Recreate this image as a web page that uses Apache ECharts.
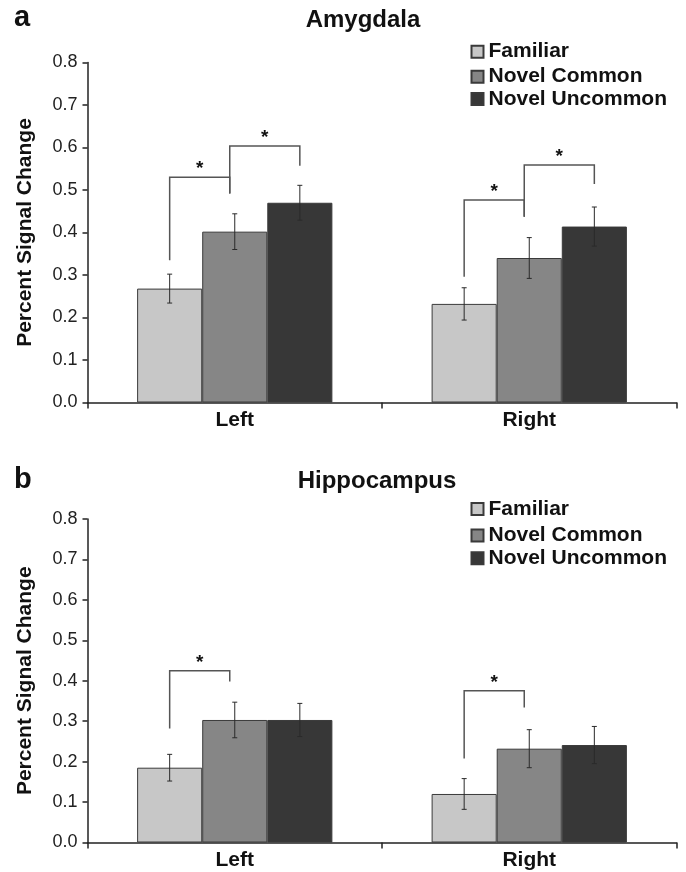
<!DOCTYPE html>
<html>
<head>
<meta charset="utf-8">
<script src="https://cdn.jsdelivr.net/npm/echarts@6/dist/echarts.min.js"></script>
<style>
html,body{margin:0;padding:0;background:#fff;}
#chart{width:686px;height:872px;}
</style>
</head>
<body>
<div id="chart"></div>
<script>
// ---------- data ----------
const categories = ['Left', 'Right'];
const seriesNames = ['Familiar', 'Novel Common', 'Novel Uncommon'];
const yTicks = [0, 0.8, 0.1]; // min, max, interval

const amygdalaFamiliar = [0.268, 0.232];
const amygdalaNovelCommon = [0.402, 0.340];
const amygdalaNovelUncommon = [0.470, 0.414];
const amygdalaErrFamiliar = [0.034, 0.038];
const amygdalaErrNovelCommon = [0.042, 0.048];
const amygdalaErrNovelUncommon = [0.041, 0.046];
// [category, fromBar, toBar, leftFoot, top, rightFoot]
const amygdalaBrackets = [
  [0, -1, 0, 0.335, 0.530, 0.492],
  [0, 0, 1, 0.492, 0.6035, 0.557],
  [1, -1, 0, 0.296, 0.4765, 0.437],
  [1, 0, 1, 0.437, 0.559, 0.514]
];

const hippoFamiliar = [0.185, 0.120];
const hippoNovelCommon = [0.303, 0.232];
const hippoNovelUncommon = [0.303, 0.241];
const hippoErrFamiliar = [0.033, 0.038];
const hippoErrNovelCommon = [0.044, 0.047];
const hippoErrNovelUncommon = [0.041, 0.046];
const hippoBrackets = [
  [0, -1, 0, 0.282, 0.425, 0.398],
  [1, -1, 0, 0.208, 0.375, 0.334]
];

// ---------- style ----------
const colors = ['#c7c7c7', '#868686', '#373737'];
const BAR_FRAC = 0.221;
const MID_SHIFT = -5;
const FONT = 'Liberation Sans, Arial, Helvetica, sans-serif';
const TXT = '#111';

function slotX(center, band, slot) {
  return center + slot * band * BAR_FRAC + (slot === 0 ? MID_SHIFT : 0);
}

function errRender(params, api) {
  const cat = api.value(0), val = api.value(1), err = api.value(2), slot = api.value(3);
  const band = api.size([1, 0])[0];
  const top = api.coord([cat, val + err]);
  const bot = api.coord([cat, val - err]);
  const x = top[0] + slot * band * BAR_FRAC;
  const cap = 2.5;
  const st = { stroke: '#2a2a2a', lineWidth: 1 };
  return {
    type: 'group',
    children: [
      { type: 'line', shape: { x1: x, y1: top[1], x2: x, y2: bot[1] }, style: st },
      { type: 'line', shape: { x1: x - cap, y1: top[1], x2: x + cap, y2: top[1] }, style: st },
      { type: 'line', shape: { x1: x - cap, y1: bot[1], x2: x + cap, y2: bot[1] }, style: st }
    ]
  };
}

function bracketRender(params, api) {
  const cat = api.value(0), s0 = api.value(1), s1 = api.value(2);
  const lf = api.value(3), tp = api.value(4), rf = api.value(5);
  const band = api.size([1, 0])[0];
  const c = api.coord([cat, tp]);
  const xL = slotX(c[0], band, s0);
  const xR = slotX(c[0], band, s1);
  const yT = c[1];
  const yL = api.coord([cat, lf])[1];
  const yR = api.coord([cat, rf])[1];
  return {
    type: 'group',
    children: [
      { type: 'polyline', shape: { points: [[xL, yL], [xL, yT], [xR, yT], [xR, yR]] },
        style: { stroke: '#555', lineWidth: 1.5, fill: null } },
      { type: 'text', style: { text: '*', x: (xL + xR) / 2, y: yT - 8, align: 'center', verticalAlign: 'middle',
        fontSize: 19, fontWeight: 'bold', fontFamily: FONT, fill: TXT } }
    ]
  };
}

function buildErrData(vals, errs) {
  const out = [];
  for (let s = 0; s < vals.length; s++) {
    for (let c = 0; c < categories.length; c++) {
      out.push([c, vals[s][c], errs[s][c], s - 1]);
    }
  }
  return out;
}

const panels = [
  { vals: [amygdalaFamiliar, amygdalaNovelCommon, amygdalaNovelUncommon],
    errs: [amygdalaErrFamiliar, amygdalaErrNovelCommon, amygdalaErrNovelUncommon],
    brackets: amygdalaBrackets },
  { vals: [hippoFamiliar, hippoNovelCommon, hippoNovelUncommon],
    errs: [hippoErrFamiliar, hippoErrNovelCommon, hippoErrNovelUncommon],
    brackets: hippoBrackets }
];

const grids = [
  { left: 87.5, top: 62.5, width: 589, height: 340 },
  { left: 87.5, top: 519, width: 589, height: 323.5 }
];

const xAxes = grids.map((g, i) => ({
  type: 'category', gridIndex: i, data: categories,
  axisLine: { lineStyle: { color: '#222', width: 1.5 } },
  axisTick: { show: true, length: 6, lineStyle: { color: '#222', width: 1.5 } },
  axisLabel: { color: TXT, fontSize: 21, fontWeight: 'bold', fontFamily: FONT, margin: 7 },
  splitLine: { show: false }
}));

const yAxes = grids.map((g, i) => ({
  type: 'value', gridIndex: i, min: yTicks[0], max: yTicks[1], interval: yTicks[2],
  name: 'Percent Signal Change', nameLocation: 'middle', nameGap: 52,
  nameTextStyle: { color: TXT, fontSize: 21, fontWeight: 'bold', fontFamily: FONT },
  axisLine: { show: true, lineStyle: { color: '#222', width: 1.5 } },
  axisTick: { show: true, length: 5, lineStyle: { color: '#222', width: 1.5 } },
  axisLabel: { color: '#222', fontSize: 18, fontFamily: FONT, margin: 10,
    formatter: v => v.toFixed(1) },
  splitLine: { show: false }
}));

const series = [];
panels.forEach((p, gi) => {
  seriesNames.forEach((name, si) => {
    series.push({
      type: 'bar', name: name, xAxisIndex: gi, yAxisIndex: gi,
      data: p.vals[si], barWidth: (BAR_FRAC * 100) + '%', barGap: '0%',
      itemStyle: { color: colors[si], borderColor: '#3a3a3a', borderWidth: 1 },
      emphasis: { disabled: true }
    });
  });
  series.push({
    type: 'custom', xAxisIndex: gi, yAxisIndex: gi, renderItem: errRender,
    data: buildErrData(p.vals, p.errs), encode: { x: 0, y: 1 }, z: 5, silent: true
  });
  series.push({
    type: 'custom', xAxisIndex: gi, yAxisIndex: gi, renderItem: bracketRender,
    data: p.brackets, encode: { x: 0, y: 4 }, z: 5, silent: true
  });
});

const legendCenters = [[51.7, 76.7, 99], [509, 535.5, 558.3]];
const legends = [];
legendCenters.forEach(arr => {
  arr.forEach((cy, si) => {
    legends.push({
      data: [seriesNames[si]], left: 470.5, top: cy - 11, padding: 0,
      itemWidth: 12, itemHeight: 12, icon: 'rect', selectedMode: false,
      textStyle: { color: TXT, fontSize: 21, fontWeight: 'bold', fontFamily: FONT, lineHeight: 22 }
    });
  });
});

const titleStyle = { color: TXT, fontSize: 24, fontWeight: 'bold', fontFamily: FONT };
const letterStyle = { color: TXT, fontSize: 29, fontWeight: 'bold', fontFamily: FONT };

const option = {
  animation: false,
  backgroundColor: '#fff',
  title: [
    { text: 'a', left: 14, top: 3.5, padding: 0, textStyle: letterStyle },
    { text: 'Amygdala', left: 363, top: 8.5, padding: 0, textAlign: 'center', textStyle: titleStyle },
    { text: 'b', left: 14, top: 465.5, padding: 0, textStyle: letterStyle },
    { text: 'Hippocampus', left: 377, top: 469.6, padding: 0, textAlign: 'center', textStyle: titleStyle }
  ],
  legend: legends,
  grid: grids,
  xAxis: xAxes,
  yAxis: yAxes,
  series: series
};

const chart = echarts.init(document.getElementById('chart'), null, { renderer: 'canvas' });
chart.setOption(option);
</script>
</body>
</html>
